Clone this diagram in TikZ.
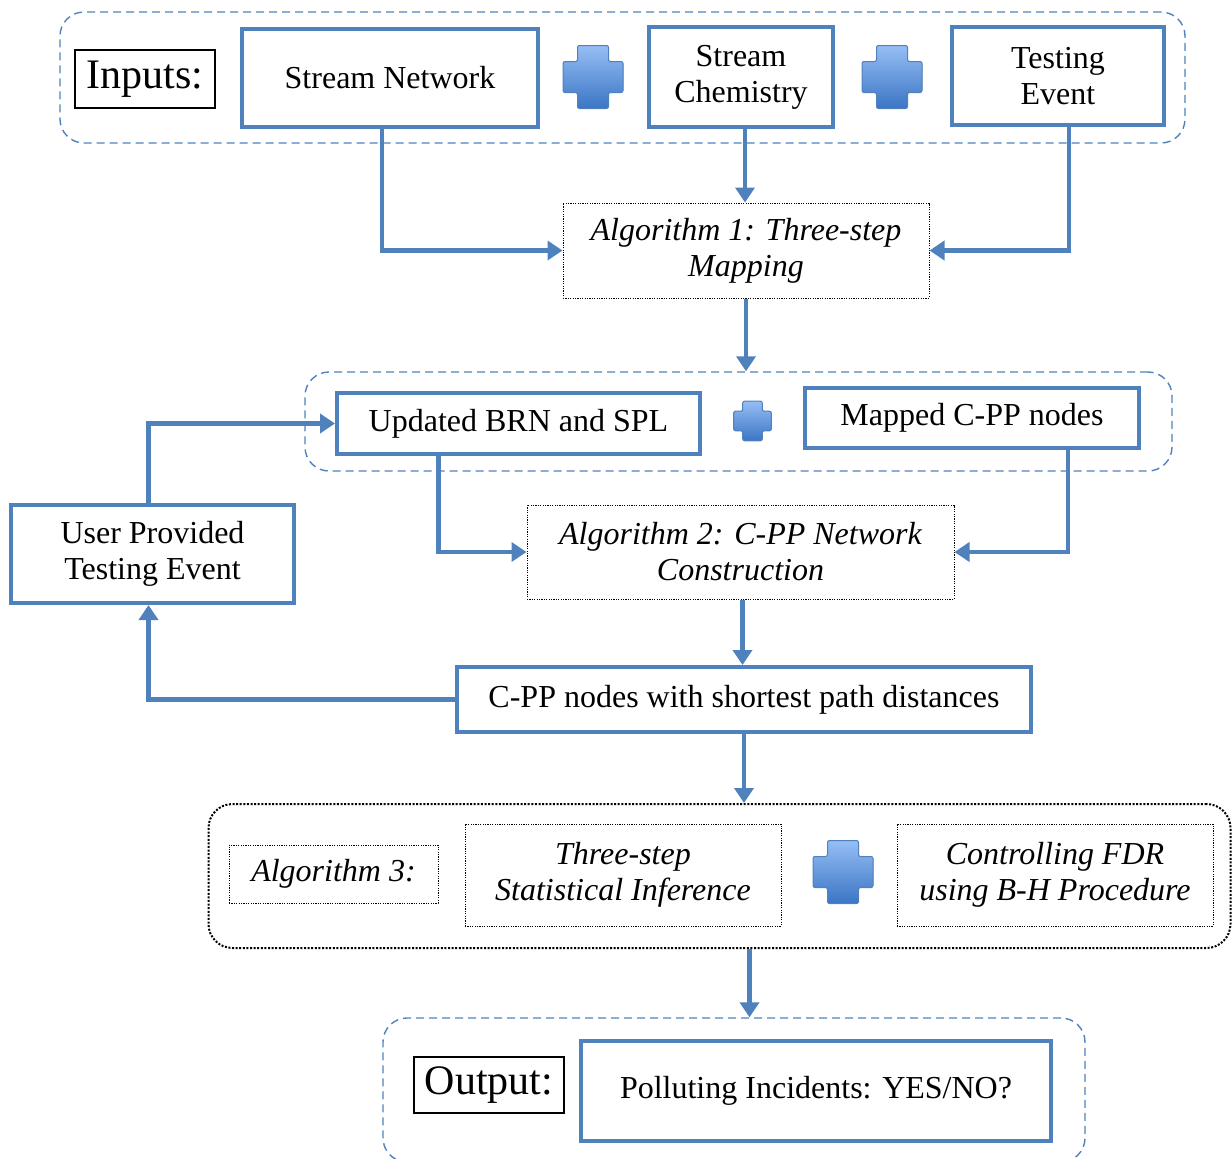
\documentclass[tikz,border=0pt]{standalone}
\usepackage{fontspec}
\setmainfont{Liberation Serif}
\usetikzlibrary{arrows.meta,positioning}
\definecolor{boxblue}{RGB}{79,129,189}
\definecolor{plustop}{RGB}{150,190,245}
\definecolor{plusbot}{RGB}{58,117,196}
\tikzstyle{bluebox} = [shape=rectangle, draw=boxblue,
		line width=2pt, align=center, inner sep=1ex,
		font=\fontsize{16}{18}\selectfont]
\tikzstyle{algbox} = [shape=rectangle, draw=black,
		line width=0.5pt, dash pattern=on 0.6pt off 0.6pt,
		align=center, inner sep=1ex,
		font=\fontsize{16}{18}\selectfont\itshape]
\tikzstyle{tagbox} = [shape=rectangle, draw=black,
		line width=0.6pt, font=\fontsize{21}{24}\selectfont]
\tikzstyle{region} = [shape=rectangle, rounded corners=12pt,
		draw=boxblue, line width=0.7pt, dash pattern=on 4pt off 2.5pt]
\tikzstyle{algregion} = [shape=rectangle, rounded corners=12pt,
		draw=black, line width=1pt, dash pattern=on 1pt off 0.8pt]
\tikzstyle{flow} = [draw=boxblue, line width=2.4pt,
		-{Triangle[length=7.5pt,width=9.5pt]}]
\tikzset{pics/plussign/.style={code={
	\filldraw[draw=boxblue, line width=0.5pt, top color=plustop,
		bottom color=plusbot, rounded corners=1pt]
		(-15.5,-31.5) -- (15.5,-31.5) -- (15.5,-15.5) -- (30,-15.5)
		-- (30,15.5) -- (15.5,15.5) -- (15.5,31.5) -- (-15.5,31.5)
		-- (-15.5,15.5) -- (-30,15.5) -- (-30,-15.5) -- (-15.5,-15.5) -- cycle;
}}}

\begin{document}
\begin{tikzpicture}[x=0.5pt, y=-0.5pt]
	\useasboundingbox (0,0) rectangle (1232,1158);

	% dashed and dotted groups
	\node[region, minimum width=562.5pt, minimum height=65.5pt] (inreg) at (622.5,77.5) {};
	\node[region, minimum width=433.5pt, minimum height=49.5pt] (midreg) at (738.5,421.5) {};
	\node[algregion, minimum width=511pt, minimum height=72pt] (algreg) at (719.5,876) {};
	\node[region, minimum width=351pt, minimum height=72pt] (outreg) at (734,1090) {};

	% inputs
	\node[tagbox, minimum width=70pt, minimum height=29pt] (inputs) at (145,79) {Inputs:};
	\node[bluebox, minimum width=148pt, minimum height=49pt] (net) at (390,78) {Stream Network};
	\pic at (593,77) {plussign};
	\node[bluebox, minimum width=92pt, minimum height=50pt] (chem) at (741,77) {Stream\\Chemistry};
	\pic at (892,77) {plussign};
	\node[bluebox, minimum width=106pt, minimum height=49pt] (test) at (1058,76) {Testing\\Event};

	\node[algbox, minimum width=183pt, minimum height=47.5pt] (alg1) at (746,250.5) {Algorithm 1: Three-step\\Mapping};

	% mapping results
	\node[bluebox, minimum width=181.5pt, minimum height=30.5pt] (brn) at (518.5,423.5) {Updated BRN and SPL};
	\pic[scale=0.63] at (752.5,421) {plussign};
	\node[bluebox, minimum width=167pt, minimum height=30pt] (mapped) at (972,418) {Mapped C-PP nodes};

	\node[algbox, minimum width=213.5pt, minimum height=47pt] (alg2) at (740.5,552) {Algorithm 2: C-PP Network\\Construction};
	\node[bluebox, minimum width=141.5pt, minimum height=49pt] (user) at (152.5,554) {User Provided\\Testing Event};
	\node[bluebox, minimum width=287pt, minimum height=32.5pt] (dist) at (744,699.5) {C-PP nodes with shortest path distances};

	% statistical inference
	\node[algbox, minimum width=104.5pt, minimum height=29pt] (alg3) at (333.5,874) {Algorithm 3:};
	\node[algbox, minimum width=158pt, minimum height=51pt] (infer) at (623,875) {Three-step\\Statistical Inference};
	\pic at (843,872) {plussign};
	\node[algbox, minimum width=158pt, minimum height=51pt] (fdr) at (1055,875) {Controlling FDR\\using B-H Procedure};

	% output
	\node[tagbox, minimum width=75pt, minimum height=28pt] (output) at (489,1085) {Output:};
	\node[bluebox, minimum width=235pt, minimum height=50pt] (result) at (816,1091) {Polluting Incidents: YES/NO?};

	% arrows
	\draw[flow] ([xshift=-4pt]net.south) |- (alg1.west);
	\draw[flow] ([xshift=2pt]chem.south) -- ([xshift=2pt]chem.south |- alg1.north);
	\draw[flow] ([xshift=5.5pt]test.south) |- (alg1.east);
	\draw[flow] (alg1.south) -- (alg1.south |- midreg.north);
	\draw[flow] ([xshift=-40pt]brn.south) |- (alg2.west);
	\draw[flow] ([xshift=48pt]mapped.south) |- (alg2.east);
	\draw[flow] ([xshift=-2pt]user.north) |- (brn.west);
	\draw[flow] ([xshift=1pt]alg2.south) -- ([xshift=1pt]alg2.south |- dist.north);
	\draw[flow] (dist.west) -| ([xshift=-2pt]user.south);
	\draw[flow] (dist.south) -- (dist.south |- algreg.north);
	\draw[flow] ([xshift=15pt]algreg.south) -- ([xshift=15pt]algreg.south |- outreg.north);
\end{tikzpicture}
\end{document}
